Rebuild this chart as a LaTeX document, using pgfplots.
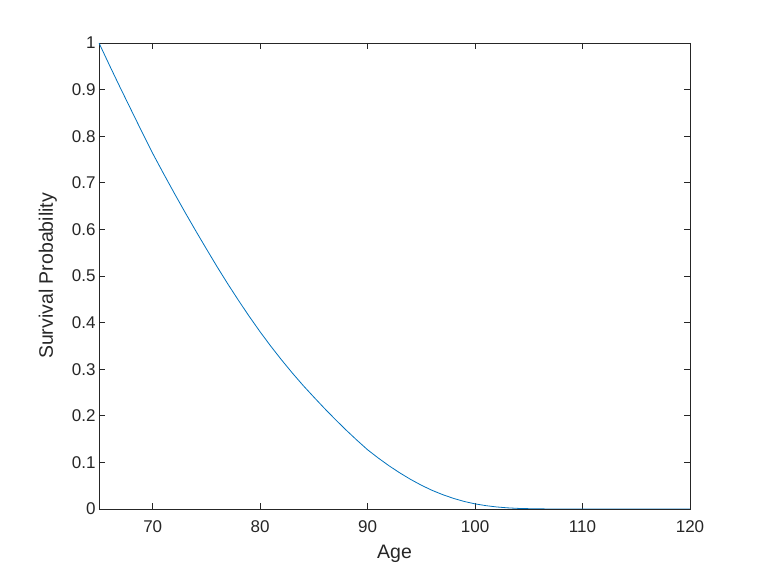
\documentclass[border=0pt]{standalone}
\usepackage{pgfplots}
\pgfplotsset{compat=1.18}
\usepackage{fontspec}
\setmainfont{Liberation Sans}
\definecolor{mblue}{rgb}{0,0.447,0.741}
\definecolor{axgray}{rgb}{0.15,0.15,0.15}
\begin{document}
\begin{tikzpicture}
\begin{axis}[
    scale only axis,
    width=591pt, height=466pt,
    xmin=65, xmax=120, ymin=0, ymax=1,
    xtick={70,80,...,120},
    ytick={0,0.1,...,1},
    yticklabel style={/pgf/number format/fixed},
    xticklabel style={yshift=-8pt},
    /pgf/number format/assume math mode=true,
    tick align=inside,
    major tick length=6pt,
    axis line style={axgray, line width=0.6pt},
    every tick/.style={axgray, line width=0.6pt},
    tick label style={font=\fontsize{17}{20}\selectfont, text=axgray},
    label style={font=\fontsize{19.5}{22}\selectfont, text=axgray},
    xlabel={Age},
    ylabel={Survival Probability},
    xlabel style={yshift=-6pt},
    ylabel style={yshift=8pt},
]
\addplot[mblue, line width=0.8pt] coordinates {
(65,1.000) (66,0.951) (67,0.903) (68,0.856) (69,0.809) (70,0.763)
(71,0.720) (72,0.678) (73,0.637) (74,0.597) (75,0.558)
(76,0.5195) (77,0.4825) (78,0.447) (79,0.4127) (80,0.380)
(81,0.349) (82,0.3196) (83,0.2916) (84,0.265) (85,0.240)
(86,0.2155) (87,0.192) (88,0.1693) (89,0.1477) (90,0.127)
(91,0.1092) (92,0.0926) (93,0.0774) (94,0.0635) (95,0.051)
(96,0.040) (97,0.0307) (98,0.0227) (99,0.0161) (100,0.011)
(101,0.0072) (102,0.0044) (103,0.0025) (104,0.0013) (105,0.0007)
(106,0.0003) (107,0.0001) (108,0.00003) (110,0) (115,0) (120,0)
};
\end{axis}
\path (current axis.south west) ++(-99pt,-63pt) rectangle ++(763pt,572pt);
\end{tikzpicture}
\end{document}
